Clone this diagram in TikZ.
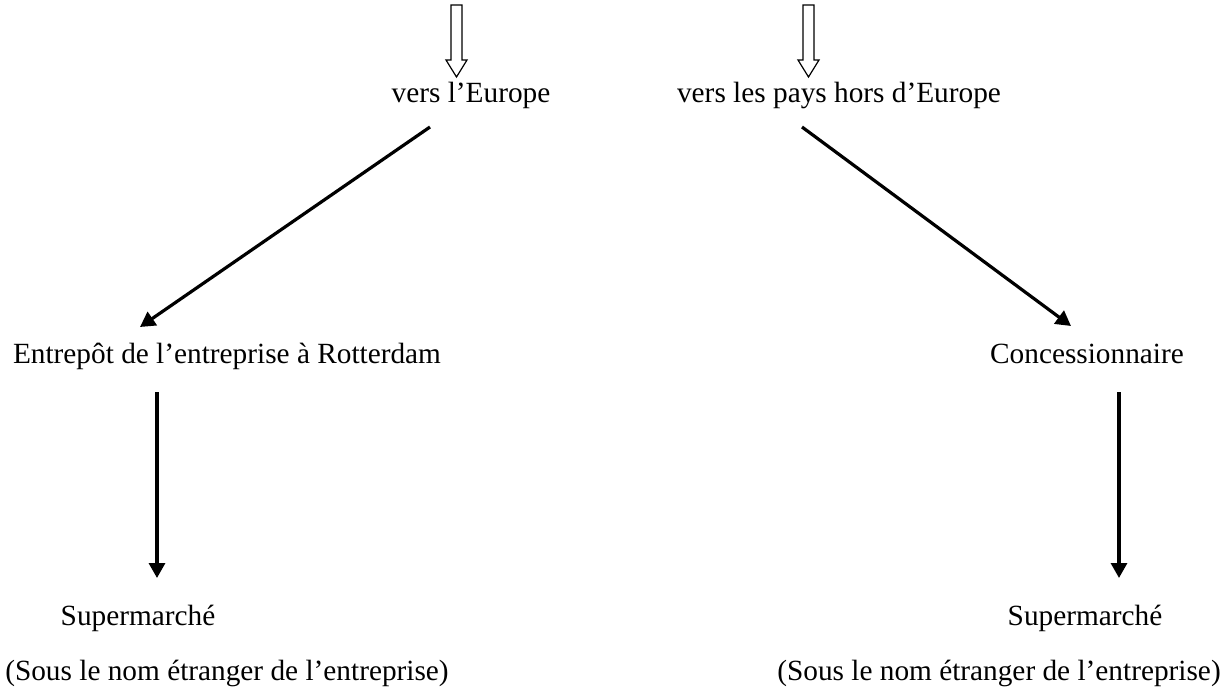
\documentclass[tikz,border=0pt]{standalone}
\usepackage{fontspec}
\setmainfont{Liberation Serif}
\usetikzlibrary{arrows.meta,calc}
\tikzset{
  lbl/.style={inner sep=0pt, anchor=base, font=\fontsize{29.3}{35}\selectfont},
  arr/.style={line width=3.2pt, -{Triangle[length=15pt,width=16pt]}},
  hollow/.style={draw=black, line width=1.2pt, fill=white, line join=miter}
}
\begin{document}
\begin{tikzpicture}[x=1pt,y=-1pt]
\useasboundingbox (0,0) rectangle (1226,695);
% hollow arrows
\draw[hollow] (451,5) -- (462,5) -- (462,60) -- (467,60) -- (456.5,77) -- (446,60) -- (451,60) -- cycle;
\draw[hollow] (803,5) -- (814,5) -- (814,60) -- (819,60) -- (808.5,77) -- (798,60) -- (803,60) -- cycle;
% labels
\node[lbl] (eu)   at (471,103) {vers l’Europe};
\node[lbl] (hors) at (839,103) {vers les pays hors d’Europe};
\node[lbl] (ent)  at (227,363) {Entrepôt de l’entreprise à Rotterdam};
\node[lbl] (con)  at (1087,363) {Concessionnaire};
\node[lbl] (sm1)  at (138,625) {Supermarché};
\node[lbl] (sm2)  at (1085,625) {Supermarché};
\node[lbl] (so1)  at (227,680) {(Sous le nom étranger de l’entreprise)};
\node[lbl] (so2)  at (999,680) {(Sous le nom étranger de l’entreprise)};
% connectors
\draw[arr] ($(eu.base)+(-41,24)$) -- ($(ent.base)+(-87,-36)$);
\draw[arr] ($(hors.base)+(-37,24)$) -- ($(con.base)+(-16,-37)$);
\draw[arr] ($(ent.base)+(-70,29)$) -- ($(sm1.base)+(19,-47)$);
\draw[arr] ($(con.base)+(32,29)$) -- ($(sm2.base)+(34,-47)$);
\end{tikzpicture}
\end{document}
